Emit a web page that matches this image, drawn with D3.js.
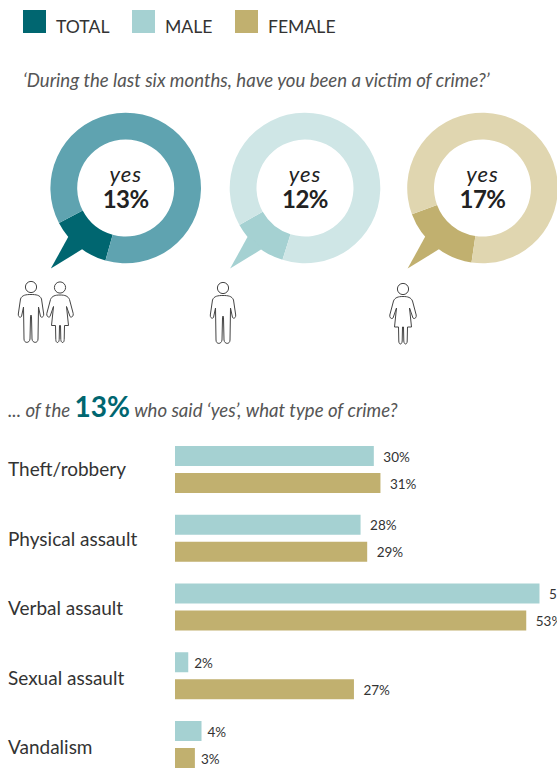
<!DOCTYPE html>
<html>
<head>
<meta charset="utf-8">
<script src="https://cdn.jsdelivr.net/npm/d3@7"></script>
<style>
	html, body { margin: 0; padding: 0; background: #fff; overflow: hidden; }
	svg { display: block; font-family: Lato, sans-serif; }
</style>
</head>
<body>
<svg id="chart" width="557" height="768"></svg>
<script>
	const legendLabels = ['TOTAL', 'MALE', 'FEMALE']
	const groups = ['total', 'male', 'female']
	const yesValues = [13, 12, 17]
	const crimes = ['Theft/robbery', 'Physical assault', 'Verbal assault', 'Sexual assault', 'Vandalism']
	const maleValues = [30, 28, 55, 2, 4]
	const femaleValues = [31, 29, 53, 27, 3]

	const strong = { total: '#006670', male: '#a5d1d2', female: '#c1b06f' }
	const pale = { total: '#5fa3b0', male: '#cfe6e6', female: '#e0d6b0' }

	const svg = d3.select('#chart')
	const rad = (deg) => deg * Math.PI / 180

	// legend
	const legendX = d3.scaleOrdinal().domain(groups).range([23, 132, 235])
	const gLegend = svg.append('g')
	gLegend.selectAll('rect')
		.data(groups)
		.enter()
		.append('rect')
		.attr('x', legendX).attr('y', 10)
		.attr('width', 23).attr('height', 23)
		.attr('fill', (d) => strong[d])
	gLegend.selectAll('text')
		.data(groups)
		.enter()
		.append('text')
		.attr('x', (d) => legendX(d) + 33).attr('y', 33)
		.attr('font-size', 17.6).attr('fill', '#333')
		.text((_, i) => legendLabels[i])

	svg.append('text')
		.attr('x', 23).attr('y', 87)
		.attr('font-size', 18.6).attr('font-style', 'italic').attr('fill', '#555')
		.text('‘During the last six months, have you been a victim of crime?’')

	// donuts
	const donutX = d3.scaleOrdinal().domain(groups).range([125.7, 305, 482.5])
	const donutY = 188
	const arc = d3.arc().innerRadius(48.5).outerRadius(75.3)
	const tail = [[74, 230], [110, 222.9], [74, 215]]
		.map(([r, a]) => d3.pointRadial(rad(a), r))

	const gDonut = svg.selectAll('g.donut')
		.data(groups)
		.enter()
		.append('g')
		.attr('class', 'donut')
		.attr('transform', (d) => `translate(${donutX(d)}, ${donutY})`)

	gDonut.each(function (d, i) {
		const g = d3.select(this)
		const yes = yesValues[i]
		const mid = rad(219)
		const half = rad(yes * 3.6 / 2)
		const pie = d3.pie().sort(null)
			.startAngle(mid - half)
			.endAngle(mid - half + 2 * Math.PI)
		g.selectAll('path.slice')
			.data(pie([yes, 100 - yes]))
			.enter()
			.append('path')
			.attr('class', 'slice')
			.attr('d', arc)
			.attr('fill', (_, j) => j === 0 ? strong[d] : pale[d])
		g.append('path')
			.attr('d', d3.line()(tail) + 'Z')
			.attr('fill', strong[d])
		g.append('text')
			.attr('text-anchor', 'middle').attr('y', -6)
			.attr('font-size', 22).attr('font-style', 'italic').attr('fill', '#222')
			.attr('letter-spacing', 1)
			.text('yes')
		g.append('text')
			.attr('text-anchor', 'middle').attr('y', 20)
			.attr('font-size', 24).attr('font-weight', 700).attr('fill', '#222')
			.attr('letter-spacing', -0.5)
			.text(`${yes}%`)
	})

	// people icons, half outline mirrored
	const manHalf = 'M0,7.5C5,7.5 9,8 10.5,12L12.7,27C13,30 10.5,31 9.5,29.5L7.5,20L7,52C7,56.5 1.5,56.5 1,52L0.5,30L0,28'
	const womanHalf = 'M0,7.5C5,7.5 8,8.5 9.5,12L13.2,26C13.8,29 11,30.5 10,29L6.5,19L8.5,38L4.5,38L4.2,52C4.2,56 1,56 0.8,52L0.5,38L0,38'
	const people = [
		{ half: manHalf, x: 31, y: 287 },
		{ half: womanHalf, x: 60, y: 287.5 },
		{ half: manHalf, x: 223, y: 288 },
		{ half: womanHalf, x: 403, y: 289 },
	]
	const gPerson = svg.selectAll('g.person')
		.data(people)
		.enter()
		.append('g')
		.attr('class', 'person')
		.attr('transform', (d) => `translate(${d.x}, ${d.y})`)
		.attr('fill', 'none').attr('stroke', '#444').attr('stroke-width', 1)
	gPerson.append('circle').attr('r', 5.6)
	gPerson.append('path').attr('d', (d) => d.half)
	gPerson.append('path').attr('d', (d) => d.half).attr('transform', 'scale(-1, 1)')

	// bars heading
	const heading = svg.append('text')
		.attr('x', 8).attr('y', 417)
		.attr('font-size', 18.6).attr('font-style', 'italic').attr('fill', '#555')
	heading.append('tspan').text('... of the ')
	heading.append('tspan')
		.attr('font-size', 28).attr('font-style', 'normal').attr('font-weight', 700).attr('fill', '#006670')
		.text('13%')
	heading.append('tspan').text(' who said ‘yes’, what type of crime?')

	// bars, category labels step slightly wider than the bar groups
	const x = d3.scaleLinear().domain([0, 55]).range([175, 539.5])
	const y = d3.scaleBand().domain(crimes).range([446, 789.75])
	const yLabel = d3.scaleBand().domain(crimes).range([476, 823.5])
	const ySex = d3.scaleBand().domain(['male', 'female']).range([0, 47]).paddingInner(7 / 27)

	svg.selectAll('text.crime')
		.data(crimes)
		.enter()
		.append('text')
		.attr('class', 'crime')
		.attr('x', 8).attr('y', yLabel)
		.attr('font-size', 19).attr('fill', '#333')
		.text((d) => d)

	const gCrime = svg.selectAll('g.crime')
		.data(crimes)
		.enter()
		.append('g')
		.attr('class', 'crime')
		.attr('transform', (d) => `translate(0, ${y(d)})`)

	const rows = (_, i) => [
		{ sex: 'male', value: maleValues[i] },
		{ sex: 'female', value: femaleValues[i] },
	]
	const gBar = gCrime.selectAll('g.bar')
		.data(rows)
		.enter()
		.append('g')
		.attr('class', 'bar')
		.attr('transform', (d) => `translate(0, ${ySex(d.sex)})`)

	gBar.append('rect')
		.attr('x', x(0))
		.attr('width', (d) => x(d.value) - x(0))
		.attr('height', ySex.bandwidth())
		.attr('fill', (d) => strong[d.sex])

	gBar.append('text')
		.attr('x', (d) => x(d.value) + (d.value < 10 ? 6 : 9.5))
		.attr('y', 15.5)
		.attr('font-size', 13.5).attr('fill', '#333')
		.text((d) => `${d.value}%`)
</script>
</body>
</html>
